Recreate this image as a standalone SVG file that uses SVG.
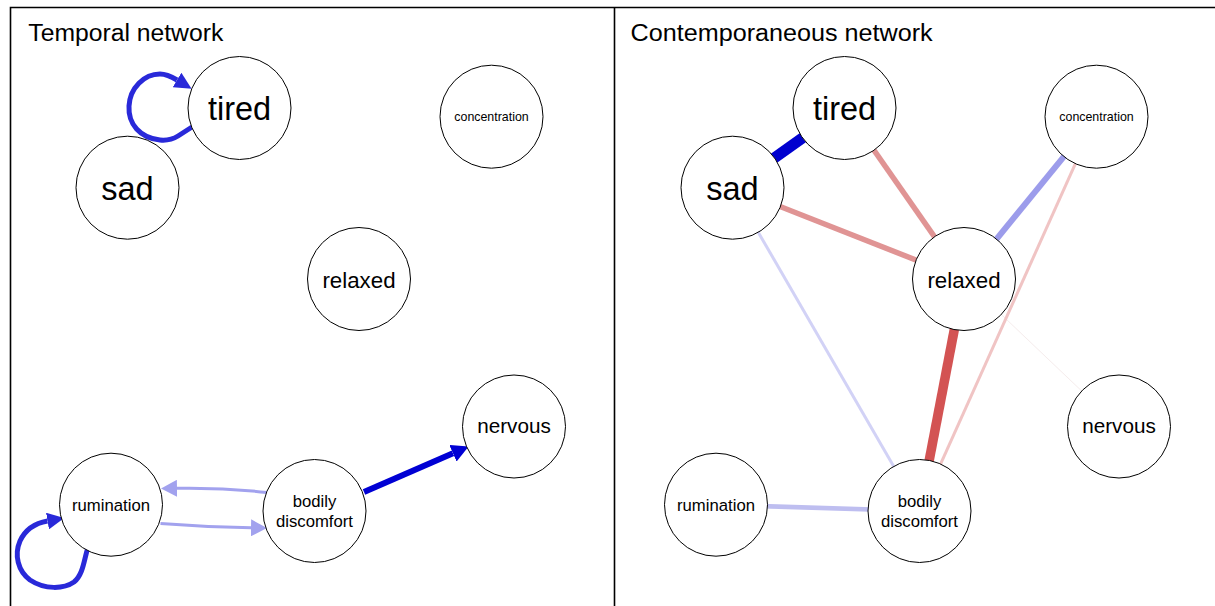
<svg xmlns="http://www.w3.org/2000/svg" width="1215" height="606" viewBox="0 0 1215 606">
  <style>
    .frame { fill: none; stroke: #000; stroke-width: 1.6; }
    .node circle { fill: #fff; stroke: #000; stroke-width: 1; }
    .node text, .title { font-family: "Liberation Sans", Arial, sans-serif; fill: #000; text-anchor: middle; }
    .title { text-anchor: start; font-size: 23px; }
    .edge { fill: none; stroke-linecap: butt; }
  </style>
  <defs>
    <marker id="head-strong" viewBox="0 -9 17 18" refX="0" refY="0" markerUnits="userSpaceOnUse" markerWidth="17" markerHeight="18" orient="auto">
      <path d="M0,-9 L17,0 L0,9 Z" fill="#0000D4"/>
    </marker>
    <marker id="head-loop" viewBox="0 -8.5 17 17" refX="0" refY="0" markerUnits="userSpaceOnUse" markerWidth="17" markerHeight="17" orient="auto">
      <path d="M0,-8.5 L17,0 L0,8.5 Z" fill="#2929D9"/>
    </marker>
    <marker id="head-light" viewBox="0 -8.5 16 17" refX="0" refY="0" markerUnits="userSpaceOnUse" markerWidth="16" markerHeight="17" orient="auto">
      <path d="M0,-8.5 L16,0 L0,8.5 Z" fill="#A2A2EE"/>
    </marker>
  </defs>

  <rect width="1215" height="606" fill="#fff"/>

  <!-- panel borders -->
  <g id="frames">
    <path class="frame" d="M10.5,606 V7.5 H1215"/>
    <path class="frame" d="M614.5,7.5 V606"/>
  </g>

  <text class="title" x="28.3" y="40.7" textLength="195" lengthAdjust="spacingAndGlyphs">Temporal network</text>
  <text class="title" x="630.6" y="40.7" textLength="302" lengthAdjust="spacingAndGlyphs">Contemporaneous network</text>

  <!-- temporal network edges -->
  <g id="temporal-edges">
    <path class="edge" stroke="#2929D9" stroke-width="5" d="M192,127 L178,136 Q170,141 160,140 C140,138 128,124 129,106 C130,88 144,74 160,74 C167,74 172,77 177,80" marker-end="url(#head-loop)"/>
    <path class="edge" stroke="#2929D9" stroke-width="5" d="M87.5,549 C84,560 83,575 74,582 C64,589 45,590 30,580 C18,571 14,555 20,541 C26,528 36,523 47.5,521" marker-end="url(#head-loop)"/>
    <path class="edge" stroke="#A2A2EE" stroke-width="3" d="M267,492.5 Q222,487.5 177,488.3" marker-end="url(#head-light)"/>
    <path class="edge" stroke="#A2A2EE" stroke-width="3" d="M160.5,523.5 Q205,527 251,527.8" marker-end="url(#head-light)"/>
    <path class="edge" stroke="#0000D4" stroke-width="6" d="M364,492 L453,453.3" marker-end="url(#head-strong)"/>
  </g>

  <!-- contemporaneous network edges -->
  <g id="contemporaneous-edges">
    <line class="edge" stroke="#F5ECEC" stroke-width="1" x1="964" y1="279" x2="1119" y2="426.5"/>
    <line class="edge" stroke="#D2D2F6" stroke-width="3" x1="732.5" y1="187.7" x2="919.5" y2="511"/>
    <line class="edge" stroke="#BEBEF0" stroke-width="4.5" x1="716" y1="504.7" x2="919.5" y2="511"/>
    <line class="edge" stroke="#F0C4C4" stroke-width="3" x1="1096.5" y1="116.7" x2="919.5" y2="511"/>
    <line class="edge" stroke="#D35353" stroke-width="9.5" x1="964" y1="279" x2="919.5" y2="511"/>
    <line class="edge" stroke="#9C9CEB" stroke-width="6" x1="964" y1="279" x2="1096.5" y2="116.7"/>
    <line class="edge" stroke="#E09494" stroke-width="5.5" x1="844.5" y1="108" x2="964" y2="279"/>
    <line class="edge" stroke="#E09494" stroke-width="5.5" x1="732.5" y1="187.7" x2="964" y2="279"/>
    <line class="edge" stroke="#0000CF" stroke-width="11" x1="732.5" y1="187.7" x2="844.5" y2="108"/>
  </g>

  <!-- temporal network nodes -->
  <g id="t-tired" class="node"><circle cx="239.5" cy="108" r="51.5"/><text x="239.5" y="119.5" font-size="32.5">tired</text></g>
  <g id="t-sad" class="node"><circle cx="127.5" cy="187.7" r="51.5"/><text x="127.5" y="199.7" font-size="32.5">sad</text></g>
  <g id="t-concentration" class="node"><circle cx="491.5" cy="116.7" r="51.5"/><text x="491.5" y="121" font-size="12.4">concentration</text></g>
  <g id="t-relaxed" class="node"><circle cx="359" cy="279" r="51.5"/><text x="359" y="287.5" font-size="22.3">relaxed</text></g>
  <g id="t-nervous" class="node"><circle cx="514" cy="426.5" r="51.5"/><text x="514" y="433.3" font-size="20.7">nervous</text></g>
  <g id="t-rumination" class="node"><circle cx="111" cy="504.7" r="51.5"/><text x="111" y="510.5" font-size="16.7">rumination</text></g>
  <g id="t-bodily" class="node"><circle cx="314.5" cy="511" r="51.5"/><text x="314.5" y="507.3" font-size="16.7">bodily</text><text x="314.5" y="527" font-size="16.7">discomfort</text></g>

  <!-- contemporaneous network nodes -->
  <g id="c-tired" class="node"><circle cx="844.5" cy="108" r="51.5"/><text x="844.5" y="119.5" font-size="32.5">tired</text></g>
  <g id="c-sad" class="node"><circle cx="732.5" cy="187.7" r="51.5"/><text x="732.5" y="199.7" font-size="32.5">sad</text></g>
  <g id="c-concentration" class="node"><circle cx="1096.5" cy="116.7" r="51.5"/><text x="1096.5" y="121" font-size="12.4">concentration</text></g>
  <g id="c-relaxed" class="node"><circle cx="964" cy="279" r="51.5"/><text x="964" y="287.5" font-size="22.3">relaxed</text></g>
  <g id="c-nervous" class="node"><circle cx="1119" cy="426.5" r="51.5"/><text x="1119" y="433.3" font-size="20.7">nervous</text></g>
  <g id="c-rumination" class="node"><circle cx="716" cy="504.7" r="51.5"/><text x="716" y="510.5" font-size="16.7">rumination</text></g>
  <g id="c-bodily" class="node"><circle cx="919.5" cy="511" r="51.5"/><text x="919.5" y="507.3" font-size="16.7">bodily</text><text x="919.5" y="527" font-size="16.7">discomfort</text></g>
</svg>
